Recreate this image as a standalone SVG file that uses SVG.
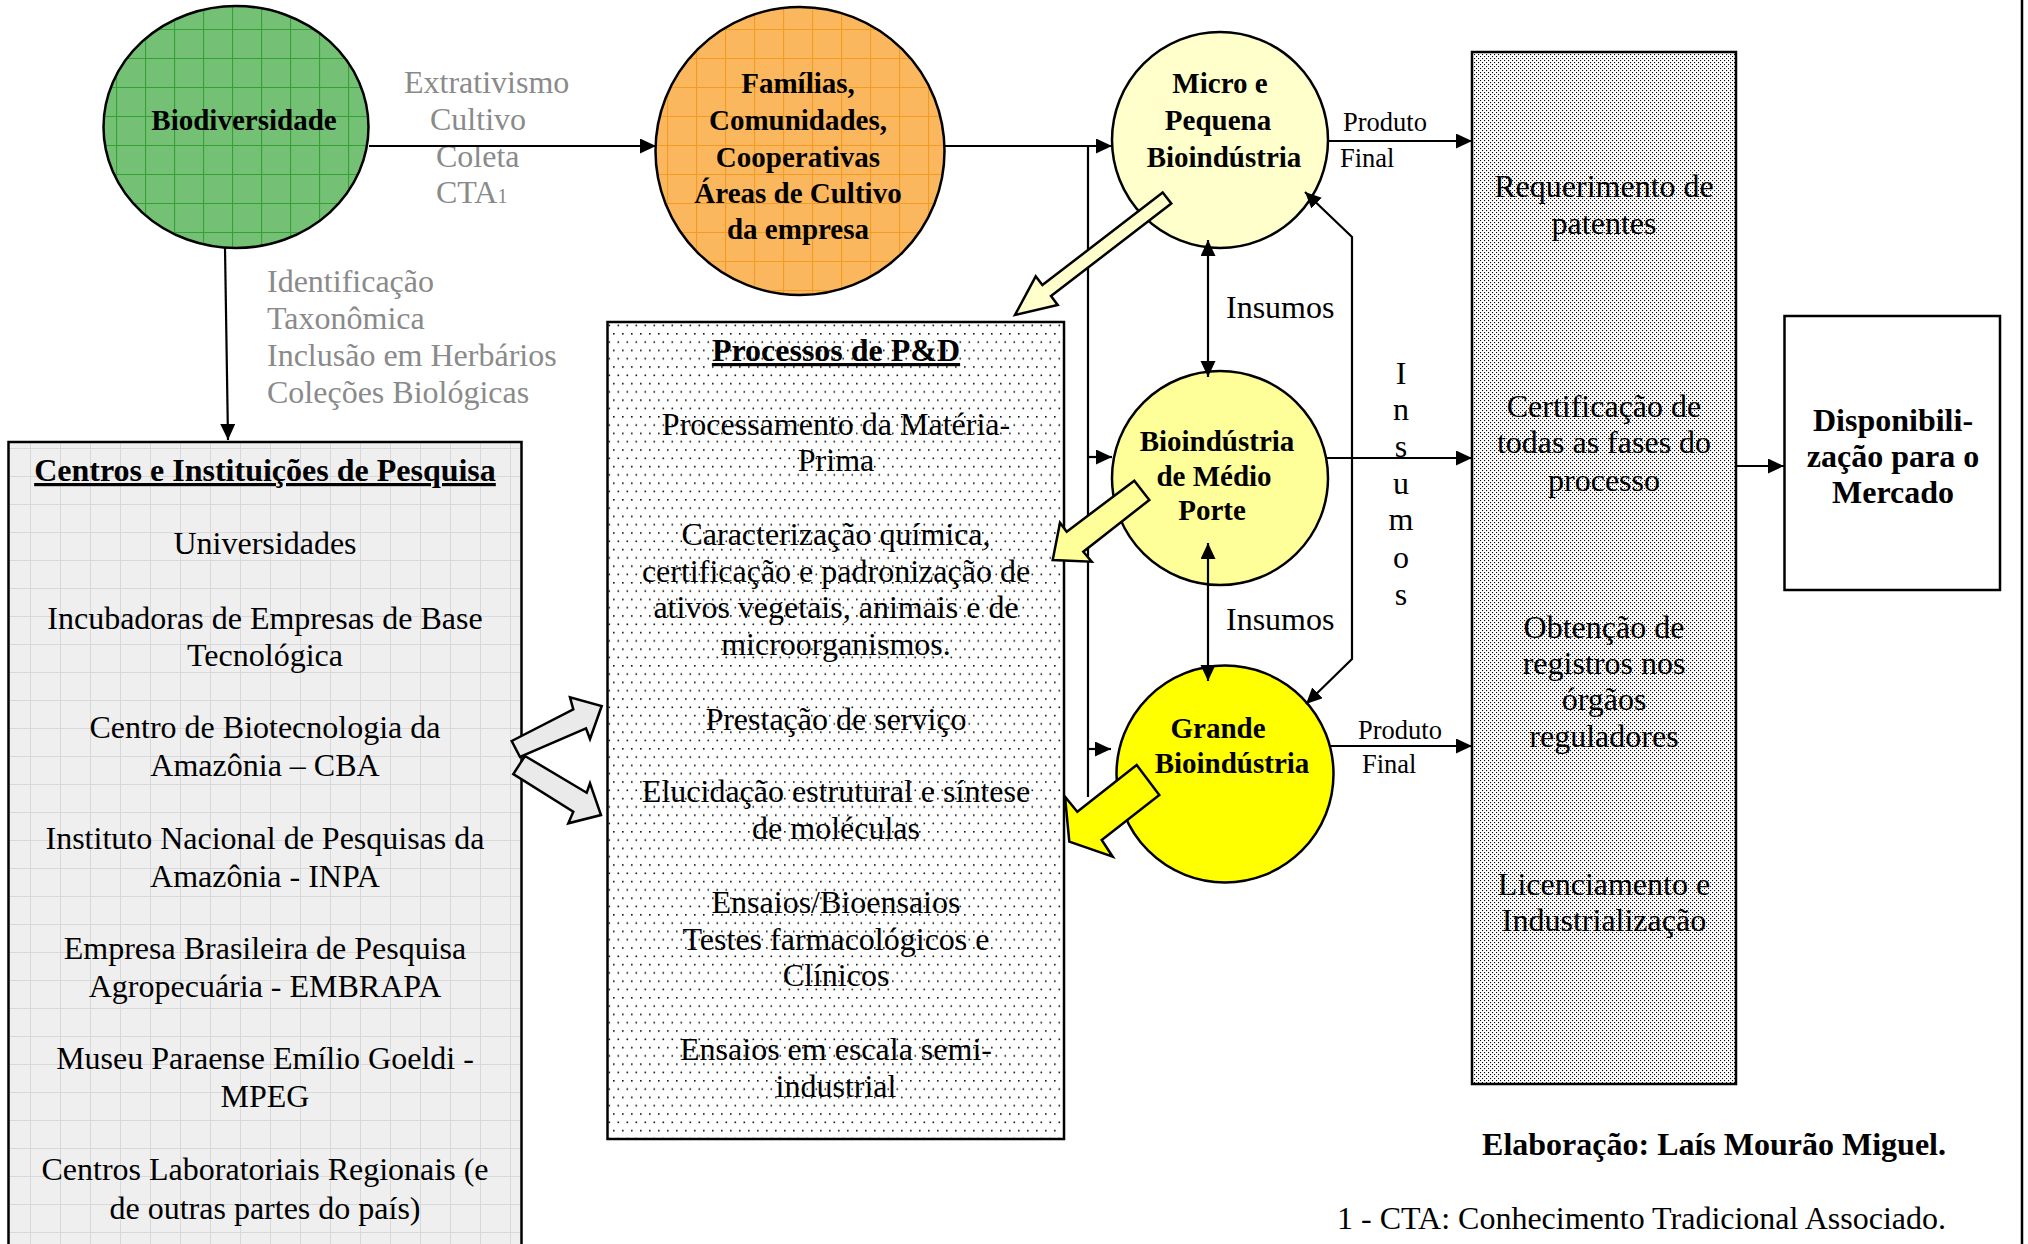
<svg xmlns="http://www.w3.org/2000/svg" width="2028" height="1244" viewBox="0 0 2028 1244">
<style>
.t{font-family:"Liberation Serif","Times New Roman",serif;font-size:32px;fill:#000}
.b{font-weight:bold}
.c{text-anchor:middle}
.e{text-anchor:end}
.n{font-size:29px}
.s{font-size:26.5px}
.g{fill:#8a8a8a}
.u{text-decoration:underline}
.ln{fill:none;stroke:#000;stroke-width:2.2}
.ol{stroke:#000;stroke-width:2.5}
.ba{stroke:#000;stroke-width:2.5;stroke-linejoin:miter}
</style>
<defs>
<pattern id="pGreen" patternUnits="userSpaceOnUse" width="29" height="29">
<rect width="29" height="29" fill="#74C074"/>
<path d="M0,0.5H29M0.5,0V29" stroke="#35A035" stroke-width="1.2"/>
</pattern>
<pattern id="pOrange" patternUnits="userSpaceOnUse" width="29" height="29">
<rect width="29" height="29" fill="#FAB75E"/>
<path d="M0,0.5H29M0.5,0V29" stroke="#F39B22" stroke-width="1.2"/>
</pattern>
<pattern id="pGray" patternUnits="userSpaceOnUse" width="30" height="28">
<rect width="30" height="28" fill="#EFEFEF"/>
<path d="M0,0.5H30M0.5,0V28" stroke="#D8D8D8" stroke-width="1"/>
</pattern>
<pattern id="pDots" patternUnits="userSpaceOnUse" width="9" height="16.6">
<rect width="9" height="16.6" fill="#fff"/>
<rect x="1" y="1" width="1.6" height="1.6" fill="#111"/>
<rect x="5.5" y="9.3" width="1.6" height="1.6" fill="#111"/>
</pattern>
<pattern id="pDense" patternUnits="userSpaceOnUse" width="4" height="4">
<rect width="4" height="4" fill="#fff"/>
<rect x="0" y="0" width="1.1" height="1.1" fill="#000"/>
<rect x="2" y="2" width="1.1" height="1.1" fill="#000"/>
</pattern>
<marker id="ah" markerUnits="userSpaceOnUse" viewBox="0 0 17 16" markerWidth="17" markerHeight="16" refX="16" refY="7.5" orient="auto-start-reverse">
<path d="M0,0 L16,7.5 L0,15 z" fill="#000"/>
</marker>
</defs>
<rect width="2028" height="1244" fill="#fff"/>
<line x1="2022" y1="0" x2="2022" y2="1244" stroke="#000" stroke-width="2.5"/>

<g id="biodiversidade">
<ellipse cx="236" cy="127" rx="132.5" ry="121" fill="url(#pGreen)" class="ol"/>
<text class="t b n c" x="244" y="130">Biodiversidade</text>
</g>

<g id="label-extrativismo">
<text class="t g" x="404" y="93">Extrativismo</text>
<text class="t g" x="430" y="130">Cultivo</text>
<text class="t g" x="436" y="167">Coleta</text>
<text class="t g" x="436" y="203">CTA<tspan font-size="20">1</tspan></text>
</g>

<g id="label-identificacao">
<text class="t g" x="267" y="292">Identificação</text>
<text class="t g" x="267" y="329">Taxonômica</text>
<text class="t g" x="267" y="366">Inclusão em Herbários</text>
<text class="t g" x="267" y="403">Coleções Biológicas</text>
</g>

<g id="familias">
<ellipse cx="800" cy="151" rx="144.5" ry="144" fill="url(#pOrange)" class="ol"/>
<text class="t b n c" x="798" y="93">Famílias,</text>
<text class="t b n c" x="798" y="130">Comunidades,</text>
<text class="t b n c" x="798" y="167">Cooperativas</text>
<text class="t b n c" x="798" y="203">Áreas de Cultivo</text>
<text class="t b n c" x="798" y="239">da empresa</text>
</g>

<g id="micro">
<ellipse cx="1220" cy="140" rx="108" ry="108" fill="#FFFFCC" class="ol"/>
<text class="t b n c" x="1220" y="93">Micro e</text>
<text class="t b n c" x="1218" y="130">Pequena</text>
<text class="t b n c" x="1224" y="167">Bioindústria</text>
</g>

<g id="medio">
<ellipse cx="1220" cy="478" rx="108" ry="107" fill="#FFFF99" class="ol"/>
<text class="t b n c" x="1217" y="451">Bioindústria</text>
<text class="t b n c" x="1214" y="486">de Médio</text>
<text class="t b n c" x="1212" y="520">Porte</text>
</g>

<g id="grande">
<ellipse cx="1225" cy="774" rx="108.5" ry="108.5" fill="#FFFF00" class="ol"/>
<text class="t b n c" x="1218" y="738">Grande</text>
<text class="t b n c" x="1232" y="773">Bioindústria</text>
</g>

<g id="centros">
<rect x="8.5" y="442" width="513" height="830" fill="url(#pGray)" class="ol"/>
<text class="t b c u" x="265" y="481">Centros e Instituições de Pesquisa</text>
<text class="t c" x="265" y="554">Universidades</text>
<text class="t c" x="265" y="629">Incubadoras de Empresas de Base</text>
<text class="t c" x="265" y="666">Tecnológica</text>
<text class="t c" x="265" y="738">Centro de Biotecnologia da</text>
<text class="t c" x="265" y="776">Amazônia – CBA</text>
<text class="t c" x="265" y="849">Instituto Nacional de Pesquisas da</text>
<text class="t c" x="265" y="887">Amazônia - INPA</text>
<text class="t c" x="265" y="959">Empresa Brasileira de Pesquisa</text>
<text class="t c" x="265" y="997">Agropecuária - EMBRAPA</text>
<text class="t c" x="265" y="1069">Museu Paraense Emílio Goeldi -</text>
<text class="t c" x="265" y="1107">MPEG</text>
<text class="t c" x="265" y="1180">Centros Laboratoriais Regionais (e</text>
<text class="t c" x="265" y="1219">de outras partes do país)</text>
</g>

<g id="processos">
<rect x="607.5" y="322" width="456.5" height="817" fill="url(#pDots)" class="ol"/>
<text class="t b c u" x="836" y="361">Processos de P&amp;D</text>
<text class="t c" x="836" y="435">Processamento da Matéria-</text>
<text class="t c" x="836" y="471">Prima</text>
<text class="t c" x="836" y="545">Caracterização química,</text>
<text class="t c" x="836" y="582">certificação e padronização de</text>
<text class="t c" x="836" y="618">ativos vegetais, animais e de</text>
<text class="t c" x="836" y="655">microorganismos.</text>
<text class="t c" x="836" y="730">Prestação de serviço</text>
<text class="t c" x="836" y="802">Elucidação estrutural e síntese</text>
<text class="t c" x="836" y="839">de moléculas</text>
<text class="t c" x="836" y="913">Ensaios/Bioensaios</text>
<text class="t c" x="836" y="950">Testes farmacológicos e</text>
<text class="t c" x="836" y="986">Clínicos</text>
<text class="t c" x="836" y="1060">Ensaios em escala semi-</text>
<text class="t c" x="836" y="1097">industrial</text>
</g>

<g id="etapas">
<rect x="1472" y="52" width="264" height="1032" fill="url(#pDense)" class="ol"/>
<text class="t c" x="1604" y="197">Requerimento de</text>
<text class="t c" x="1604" y="234">patentes</text>
<text class="t c" x="1604" y="417">Certificação de</text>
<text class="t c" x="1604" y="453">todas as fases do</text>
<text class="t c" x="1604" y="491">processo</text>
<text class="t c" x="1604" y="638">Obtenção de</text>
<text class="t c" x="1604" y="674">registros nos</text>
<text class="t c" x="1604" y="710">órgãos</text>
<text class="t c" x="1604" y="747">reguladores</text>
<text class="t c" x="1604" y="895">Licenciamento e</text>
<text class="t c" x="1604" y="931">Industrialização</text>
</g>

<g id="mercado">
<rect x="1784.5" y="316" width="215.5" height="274" fill="#fff" class="ol"/>
<text class="t b c" x="1893" y="431">Disponibili-</text>
<text class="t b c" x="1893" y="467">zação para o</text>
<text class="t b c" x="1893" y="503">Mercado</text>
</g>

<g id="labels">
<text class="t s" x="1343" y="131">Produto</text>
<text class="t s" x="1340" y="167">Final</text>
<text class="t s" x="1358" y="739">Produto</text>
<text class="t s" x="1362" y="773">Final</text>
<text class="t" x="1226" y="318">Insumos</text>
<text class="t" x="1226" y="630">Insumos</text>
<text class="t c" x="1401" y="384">I</text>
<text class="t c" x="1401" y="420">n</text>
<text class="t c" x="1401" y="457">s</text>
<text class="t c" x="1401" y="494">u</text>
<text class="t c" x="1401" y="530">m</text>
<text class="t c" x="1401" y="568">o</text>
<text class="t c" x="1401" y="605">s</text>
</g>

<g id="footer">
<text class="t b e" x="1946" y="1155">Elaboração: Laís Mourão Miguel.</text>
<text class="t e" x="1946" y="1229">1 - CTA: Conhecimento Tradicional Associado.</text>
</g>

<g id="connectors">
<path class="ln" d="M369,146 H656" marker-end="url(#ah)"/>
<path class="ln" d="M225,248 L228,440" marker-end="url(#ah)"/>
<path class="ln" d="M944,146 H1112" marker-end="url(#ah)"/>
<path class="ln" d="M1088,146 V797"/>
<path class="ln" d="M1088,457 H1112" marker-end="url(#ah)"/>
<path class="ln" d="M1088,749 H1111" marker-end="url(#ah)"/>
<path class="ln" d="M1328,141 H1472" marker-end="url(#ah)"/>
<path class="ln" d="M1326,458 H1472" marker-end="url(#ah)"/>
<path class="ln" d="M1330,746 H1472" marker-end="url(#ah)"/>
<path class="ln" d="M1736,466 H1784" marker-end="url(#ah)"/>
<path class="ln" d="M1208,240 V377" marker-start="url(#ah)" marker-end="url(#ah)"/>
<path class="ln" d="M1208,543 V681" marker-start="url(#ah)" marker-end="url(#ah)"/>
<path class="ln" d="M1305,192 L1352,237 V659 L1306,704" marker-start="url(#ah)" marker-end="url(#ah)"/>
<polygon class="ba" fill="#FFFFCC" points="1162.7,192.5 1042.4,285.1 1035.7,276.3 1015,315 1057.7,304.9 1051,296.1 1171.3,203.5"/>
<polygon class="ba" fill="#FFFF99" points="1134.3,480.7 1066.7,531.7 1060,522.7 1052.7,560 1091.7,561.7 1083.3,551.7 1149.3,500"/>
<polygon class="ba" fill="#FFFF00" points="1136.7,765 1077.3,811.7 1065,796.7 1069.3,841.7 1112.7,856.7 1101.7,840 1159.3,795"/>
<polygon class="ba" fill="#EAEAEA" points="511.7,741 573.3,709.3 570,697.3 601.7,706 590,739 586,728.3 520,757"/>
<polygon class="ba" fill="#EAEAEA" points="525,756 586.7,792.7 590,783.3 601,815 568.3,823.3 573.3,811.7 513.3,774"/>
</g>
</svg>
